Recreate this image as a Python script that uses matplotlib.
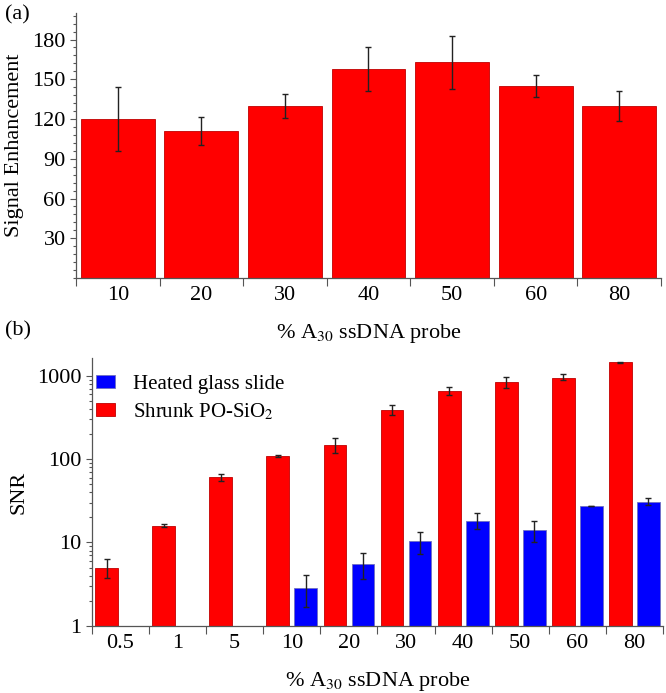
import numpy as np
import matplotlib
matplotlib.use("Agg")
import matplotlib.pyplot as plt
from matplotlib.patches import Patch

plt.rcParams['font.family'] = ['Liberation Serif', 'DejaVu Serif']
plt.rcParams['mathtext.fontset'] = 'stix'
plt.rcParams['font.size'] = 16

# --- data: panel (a) ---
cats_a = ['10', '20', '30', '40', '50', '60', '80']
enh = [120, 111, 130, 158, 163, 145, 130]
enh_err = [24, 10.5, 9, 16.5, 20, 8, 11.5]

# --- data: panel (b) ---
cats_b = ['0.5', '1', '5', '10', '20', '30', '40', '50', '60', '80']
snr_shrunk = [5.0, 15.9, 60.5, 110, 147, 386, 654, 847, 946, 1460]
snr_shrunk_lo = [1.3, 0.6, 6.0, 3.0, 28, 50, 70, 140, 58, 30]
snr_shrunk_hi = [1.3, 0.7, 5.5, 3.0, 35, 61, 83, 137, 102, 30]
snr_glass = [np.nan, np.nan, np.nan, 2.87, 5.5, 10.3, 18.3, 14.1, 27.4, 30.9]
snr_glass_lo = [0, 0, 0, 1.18, 1.9, 3.0, 3.7, 4.0, 0.3, 3.0]
snr_glass_hi = [0, 0, 0, 1.2, 1.95, 3.0, 4.1, 4.2, 0.3, 3.4]

RED = '#ff0000'
BLUE = '#0000ff'
SPINE = '#555555'

fig = plt.figure(figsize=(6.66, 6.93), dpi=100)


def style_axes(ax):
    for s in ['top', 'right']:
        ax.spines[s].set_visible(False)
    for s in ['left', 'bottom']:
        ax.spines[s].set_color(SPINE)
        ax.spines[s].set_linewidth(0.9)
    ax.tick_params(which='both', direction='out', color=SPINE, width=0.8)
    ax.tick_params(which='major', length=4)
    ax.tick_params(which='minor', length=2.5)


# --- panel (a) ---
ax1 = fig.add_axes([0.1141, 0.5988, 0.8784, 0.3824])
x = np.arange(len(cats_a))
ax1.bar(x, enh, width=0.885, color=RED, edgecolor='#c00000', linewidth=0.6, zorder=2)
ax1.errorbar(x, enh, yerr=enh_err, fmt='none', ecolor='#222222',
             elinewidth=1, capsize=2.5, capthick=1, zorder=3)
ax1.set_xlim(-0.5, len(cats_a) - 0.5)
ax1.set_ylim(0, 200)
ax1.set_yticks([30, 60, 90, 120, 150, 180])
ax1.set_yticks(np.arange(0, 201, 6), minor=True)
ax1.set_xticks(np.arange(len(cats_a) + 1) - 0.5)
ax1.set_xticklabels([])
ax1.set_xticks(x, minor=True)
ax1.set_xticklabels(cats_a, minor=True)
style_axes(ax1)
ax1.tick_params(axis='x', which='major', length=5.5)
ax1.tick_params(axis='x', which='minor', length=0, pad=6)
ax1.set_ylabel('Signal Enhancement', labelpad=6)
ax1.set_xlabel('% A$_{30}$ ssDNA probe', labelpad=12)

# --- panel (b) ---
ax2 = fig.add_axes([0.1381, 0.0971, 0.8574, 0.3859])
xb = np.arange(len(cats_b))
w = 0.40
off = 0.245
ax2.bar(xb - off, snr_shrunk, width=w, color=RED, edgecolor='#c00000',
        linewidth=0.6, zorder=2)
ax2.errorbar(xb - off, snr_shrunk, yerr=[snr_shrunk_lo, snr_shrunk_hi],
             fmt='none', ecolor='#222222', elinewidth=1, capsize=2.5,
             capthick=1, zorder=3)
ax2.bar(xb + off, snr_glass, width=w, color=BLUE, edgecolor='#7070c0',
        linewidth=0.6, zorder=2)
ax2.errorbar(xb + off, snr_glass, yerr=[snr_glass_lo, snr_glass_hi],
             fmt='none', ecolor='#222222', elinewidth=1, capsize=2.5,
             capthick=1, zorder=3)
ax2.set_yscale('log')
ax2.set_ylim(1, 1630)
ax2.set_xlim(-0.5, len(cats_b) - 0.5)
ax2.set_yticks([1, 10, 100, 1000])
ax2.set_yticklabels(['1', '10', '100', '1000'])
ax2.set_xticks(np.arange(len(cats_b) + 1) - 0.5)
ax2.set_xticklabels([])
ax2.set_xticks(xb, minor=True)
ax2.set_xticklabels(cats_b, minor=True)
style_axes(ax2)
ax2.yaxis.set_minor_locator(matplotlib.ticker.LogLocator(base=10, subs=np.arange(2, 10)))
ax2.yaxis.set_minor_formatter(matplotlib.ticker.NullFormatter())
ax2.tick_params(axis='x', which='major', length=5.5)
ax2.tick_params(axis='x', which='minor', length=0, pad=6)
ax2.set_ylabel('SNR', labelpad=6)
ax2.set_xlabel('% A$_{30}$ ssDNA probe', labelpad=12)

handles = [Patch(facecolor=BLUE, edgecolor='#7070c0', linewidth=0.6),
           Patch(facecolor=RED, edgecolor='#c00000', linewidth=0.6)]
ax2.legend(handles, ['Heated glass slide', 'Shrunk PO-SiO$_2$'],
           loc='upper left', bbox_to_anchor=(-0.0225, 1.0), frameon=False,
           fontsize=15, handlelength=0.9, handleheight=0.6,
           handletextpad=0.9, labelspacing=0.35, borderaxespad=0.4)

fig.text(0.008, 0.978, '(a)', fontsize=16, va='center', ha='left')
fig.text(0.008, 0.522, '(b)', fontsize=16, va='center', ha='left')

fig.savefig('out.png', dpi=100)
